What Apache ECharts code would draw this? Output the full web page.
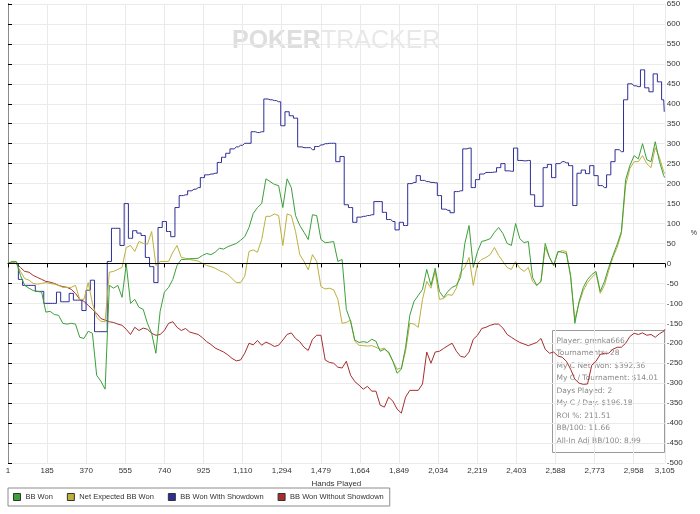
<!DOCTYPE html>
<html><head><meta charset="utf-8">
<script src="https://cdn.jsdelivr.net/npm/echarts@6/dist/echarts.min.js"></script>
<style>html,body{margin:0;padding:0;background:#fff}#c{width:700px;height:514px}</style>
</head><body><div id="c"></div>
<script>
const hands = [
  1,20,40,60,80,100,120,140,160,180,
  200,220,240,260,280,300,320,340,360,380,
  400,420,440,460,480,500,520,540,560,580,
  600,620,640,660,680,700,720,740,760,780,
  800,820,840,860,880,900,920,940,960,980,
  1000,1020,1040,1060,1080,1100,1120,1140,1160,1180,
  1200,1220,1240,1260,1280,1300,1320,1340,1360,1380,
  1400,1420,1440,1460,1480,1500,1520,1540,1560,1580,
  1600,1620,1640,1660,1680,1700,1720,1740,1760,1780,
  1800,1820,1840,1860,1880,1900,1920,1940,1960,1980,
  2000,2020,2040,2060,2080,2100,2120,2140,2160,2180,
  2200,2220,2240,2260,2280,2300,2320,2340,2360,2380,
  2400,2420,2440,2460,2480,2500,2520,2540,2560,2580,
  2600,2620,2640,2660,2680,2700,2720,2740,2760,2780,
  2800,2820,2840,2860,2880,2900,2920,2940,2960,2980,
  3000,3020,3040,3060,3080,3100,3105
];
const bbWon = [
  0,5,5,-30,-55,-62,-68,-70,-72,-122,
  -120,-128,-130,-150,-152,-150,-152,-185,-188,-170,
  -175,-280,-295,-315,-55,-62,-55,-85,-2,-100,
  -90,-110,-115,-150,-175,-225,-120,-72,-60,-40,
  -5,10,10,12,12,13,20,25,22,28,
  38,36,42,46,50,58,67,90,125,140,
  150,212,205,198,195,140,212,190,120,95,
  78,60,122,120,60,52,53,55,5,10,
  -115,-145,-192,-198,-196,-198,-190,-195,-220,-215,
  -222,-245,-275,-265,-210,-130,-95,-80,-65,-15,
  -55,-12,-70,-85,-70,-60,-55,-35,50,95,
  -10,30,55,58,62,78,90,75,50,45,
  100,62,52,55,-35,-55,-45,50,15,-5,
  30,28,25,-30,-150,-95,-60,-40,-28,-20,
  -70,-45,-10,20,48,80,210,245,270,262,
  300,260,255,305,255,220,215
];
const netExpected = [
  0,3,0,-20,-38,-42,-50,-52,-50,-48,
  -50,-52,-55,-60,-60,-60,-55,-90,-90,-48,
  -100,-135,-145,-146,-22,-20,-15,-10,40,45,
  30,55,50,48,80,-5,5,5,5,28,
  45,15,13,10,8,6,0,-5,-8,-12,
  -18,-22,-28,-38,-48,-48,-32,30,34,28,
  60,118,118,124,120,45,124,120,80,22,
  5,-16,22,5,-58,-64,-62,-66,-90,-150,
  -148,-142,-195,-205,-206,-207,-206,-210,-215,-212,
  -225,-245,-265,-262,-220,-150,-152,-160,-90,-45,
  -62,-20,-90,-88,-78,-80,-62,-22,-10,15,
  -55,0,10,15,22,40,20,5,-10,-15,
  5,-12,-20,-10,-45,-55,-45,40,15,-5,
  28,32,30,-35,-140,-100,-68,-48,-35,-25,
  -75,-55,-18,15,40,75,195,238,255,255,
  270,250,240,290,265,230,225
];
const withShowdown = [
  0,0,0,-40,-55,-55,-55,-70,-70,-100,
  -100,-100,-72,-96,-96,-75,-92,-92,-118,-67,
  -42,-171,-171,-171,5,88,88,45,150,63,
  82,76,70,15,-8,-48,90,105,80,67,
  140,170,172,182,186,190,215,222,224,226,
  253,266,276,287,292,296,301,301,330,328,
  330,412,410,408,405,345,380,370,364,292,
  290,290,285,293,297,300,301,301,255,268,
  147,140,103,116,118,120,122,155,155,128,
  110,105,84,103,95,200,203,220,208,205,
  203,202,170,136,133,127,180,182,287,289,
  190,210,224,228,228,229,240,250,232,231,
  289,258,257,258,172,143,143,240,248,215,
  250,255,252,245,145,226,234,225,245,220,
  195,190,222,255,285,280,410,450,445,443,
  485,440,430,475,455,410,380
];
const withoutShowdown = [
  0,2,0,-10,-20,-22,-30,-35,-40,-45,
  -47,-50,-55,-58,-60,-65,-75,-90,-95,-105,
  -115,-125,-138,-142,-146,-148,-152,-155,-165,-178,
  -160,-168,-162,-165,-175,-180,-178,-168,-150,-146,
  -160,-168,-163,-172,-175,-178,-186,-196,-203,-212,
  -217,-222,-229,-238,-244,-242,-225,-200,-204,-193,
  -205,-197,-202,-208,-205,-192,-178,-174,-188,-196,
  -210,-218,-190,-180,-180,-242,-248,-250,-260,-262,
  -245,-280,-296,-305,-315,-308,-320,-320,-355,-360,
  -335,-345,-365,-375,-335,-318,-318,-318,-302,-222,
  -250,-222,-220,-213,-206,-200,-220,-233,-235,-222,
  -190,-180,-163,-160,-155,-152,-152,-162,-178,-185,
  -192,-198,-202,-206,-202,-198,-188,-215,-225,-222,
  -232,-235,-245,-265,-290,-300,-303,-302,-255,-245,
  -228,-225,-225,-215,-210,-210,-200,-183,-175,-178,
  -174,-180,-178,-185,-176,-170,-165
];
const xTickLabels = ['1','185','370','555','740','925','1,110','1,294','1,479','1,664','1,849','2,034','2,219','2,403','2,588','2,773','2,958','3,105'];
const seriesNames = ['BB Won','Net Expected BB Won','BB Won With Showdown','BB Won Without Showdown'];
const seriesColors = ['#3aa03a','#bdb03c','#2e2e96','#a62e2e'];
const seriesStep = [false, false, 'middle', false];
const legendTextWidths = [28, 81, 78, 90];
const statsLines = [
  'Player: grenka666',
  'Tournaments: 28',
  'My C Net Won: $392.36',
  'My C / Tournament: $14.01',
  'Days Played: 2',
  'My C / Day: $196.18',
  'ROI %: 211.51',
  'BB/100: 11.66',
  'All-In Adj BB/100: 8.99'
];

const toPairs = vals => hands.map((h, i) => [h - 1, vals[i]]);
const seriesValues = [bbWon, netExpected, withShowdown, withoutShowdown];
const drawOrder = [3, 2, 1, 0];

const chart = echarts.init(document.getElementById('c'), null, {renderer: 'canvas'});
const FONT = 'Liberation Sans';
chart.setOption({
  animation: false,
  backgroundColor: '#ffffff',
  textStyle: {fontFamily: FONT},
  grid: {left: 8, right: 34, top: 4, bottom: 51, containLabel: false},
  xAxis: {
    type: 'value', min: 0, max: 3104, interval: 184.8125,
    name: 'Hands Played', nameLocation: 'middle', nameGap: 16,
    nameTextStyle: {fontSize: 8, color: '#333', fontFamily: FONT},
    axisLine: {show: true, lineStyle: {color: '#000', width: 1}},
    axisTick: {show: true, length: 4, lineStyle: {color: '#000'}},
    axisLabel: {fontSize: 8, color: '#333', margin: 4, showMinLabel: true, showMaxLabel: true,
      formatter: (v, i) => xTickLabels[i] !== undefined ? xTickLabels[i] : ''},
    splitLine: {show: true, lineStyle: {color: '#eaeaea', width: 1}}
  },
  yAxis: [{
    type: 'value', position: 'right', min: -500, max: 650, interval: 50,
    name: '%', nameLocation: 'middle', nameRotate: 0, nameGap: 26,
    nameTextStyle: {fontSize: 7, color: '#333'},
    axisLine: {show: true, lineStyle: {color: '#000', width: 1}},
    axisTick: {show: true, length: 4, lineStyle: {color: '#000'}},
    axisLabel: {fontSize: 8, color: '#333', margin: 2},
    splitLine: {show: true, lineStyle: {color: '#eaeaea', width: 1}}
  }, {
    type: 'value', position: 'left', min: -500, max: 650, interval: 50,
    axisLine: {show: true, lineStyle: {color: '#8c8c8c', width: 1}},
    axisTick: {show: false}, axisLabel: {show: false}, splitLine: {show: false}
  }],
  legend: {
    data: seriesNames.map((n, i) => ({name: n, textStyle: {width: legendTextWidths[i]}})),
    left: 8, top: 488, orient: 'horizontal',
    icon: 'rect', itemWidth: 7, itemHeight: 7, itemGap: 14,
    borderColor: '#8c8c8c', borderWidth: 1, padding: [5, 6, 5, 5],
    textStyle: {fontSize: 7.5, color: '#333', fontFamily: FONT},
    itemStyle: {borderColor: '#333', borderWidth: 1}
  },
  graphic: [
    {type: 'text', left: 232, top: 29, z: 0, silent: true,
      style: {text: '{a|POKER}{b|TRACKER}',
        rich: {
          a: {fontSize: 25, fontWeight: 'bold', fill: '#dedede', fontFamily: FONT},
          b: {fontSize: 25, fill: '#e8e8e8', fontFamily: FONT}
        }}},
    {type: 'group', left: 552, top: 330, z: 100, children: [
      {type: 'rect', shape: {x: 0, y: 0, width: 112, height: 122},
        style: {fill: 'rgba(255,255,255,0.78)', stroke: '#9a9a9a', lineWidth: 1}},
      {type: 'text', x: 4, y: 4,
        style: {text: statsLines.join('\n'), fontSize: 7.5, lineHeight: 12.5, fill: '#8a8a8a', fontFamily: 'DejaVu Sans'}}
    ]}
  ],
  series: drawOrder.map((k, n) => ({
    name: seriesNames[k], type: 'line', yAxisIndex: 0,
    data: toPairs(seriesValues[k]),
    showSymbol: false, symbol: 'none',
    step: seriesStep[k],
    color: seriesColors[k],
    lineStyle: {color: seriesColors[k], width: 1},
    markLine: n === 0 ? {silent: true, symbol: 'none', label: {show: false},
      lineStyle: {color: '#000', width: 1, type: 'solid'}, data: [{yAxis: 0}]} : undefined
  }))
});
</script></body></html>
